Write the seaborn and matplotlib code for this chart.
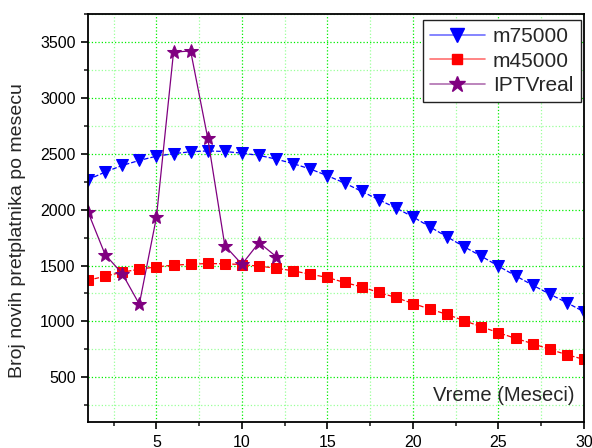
import matplotlib
matplotlib.use("Agg")
import matplotlib.pyplot as plt
from matplotlib.ticker import MultipleLocator
from matplotlib.lines import Line2D
import seaborn as sns

# podaci ocitani sa grafika
meseci = list(range(1, 31))
m75000 = [2268, 2336, 2395, 2440, 2478, 2500, 2518, 2525, 2520, 2505,
          2485, 2452, 2411, 2363, 2303, 2238, 2163, 2089, 2015, 1935,
          1845, 1756, 1667, 1583, 1494, 1408, 1324, 1244, 1167, 1086]
m45000 = [1368, 1404, 1440, 1467, 1488, 1503, 1511, 1518, 1515, 1509,
          1494, 1476, 1452, 1422, 1393, 1348, 1309, 1259, 1214, 1160,
          1110, 1062, 1006, 952, 899, 848, 801, 750, 702, 660]
meseci_real = list(range(1, 13))
iptv_real = [1979, 1598, 1428, 1154, 1931, 3408, 3420, 2640, 1678, 1511, 1705, 1580]
nazivi = ['m75000', 'm45000', 'IPTVreal']
boje = ['#0000ff', '#ff0000', '#800080']
markeri = ['v', 's', '*']

sns.set_style("ticks")
plt.rcParams['font.family'] = ['Liberation Sans', 'DejaVu Sans']

fig = plt.figure(figsize=(5.92, 4.48), dpi=100)
ax = fig.add_axes([88/592, 26/448, 496/592, 408/448])

sns.lineplot(x=meseci, y=m75000, ax=ax, color=boje[0], marker='v', markersize=9,
             markeredgecolor=boje[0], linestyle='--', linewidth=0.9)
sns.lineplot(x=meseci, y=m45000, ax=ax, color=boje[1], marker='s', markersize=6.5,
             markeredgecolor=boje[1], linestyle='--', linewidth=0.9)
sns.lineplot(x=meseci_real, y=iptv_real, ax=ax, color=boje[2], marker='*', markersize=10,
             markeredgecolor=boje[2], linestyle='-', linewidth=0.9)

ax.set_xlim(1, 30)
ax.set_ylim(100, 3750)
ax.xaxis.set_major_locator(MultipleLocator(5))
ax.xaxis.set_minor_locator(MultipleLocator(2.5))
ax.yaxis.set_minor_locator(MultipleLocator(250))
ax.set_yticks([500, 1000, 1500, 2000, 2500, 3000, 3500])
ax.tick_params(axis='both', which='major', direction='out', length=5, width=1.2, labelsize=11.5,
               colors='black', pad=4)
ax.tick_params(axis='both', which='minor', direction='out', length=3, width=1.2)

# zelena tackasta mreza
ax.grid(True, which='major', color='#00ee00', linestyle=':', linewidth=0.9)
ax.grid(True, which='minor', color='#99ff99', linestyle=':', linewidth=0.9)
ax.set_axisbelow(True)
for s in ax.spines.values():
    s.set_visible(True)
    s.set_color('black')
    s.set_linewidth(1.3)

ax.set_xlabel('')
ax.set_ylabel('')
ax.text(0.98, 0.064, 'Vreme (Meseci)', transform=ax.transAxes, ha='right', va='center', fontsize=14.5)
fig.text(18/592, 1 - 231/448, 'Broj novih pretplatnika po mesecu', rotation=90,
         ha='center', va='center', fontsize=14)

# legenda sa punim, svetlijim linijama
svetle = ['#6f6fff', '#ff7070', '#b070b0']
handles = [Line2D([0], [0], color=s, linewidth=1.2, marker=m, markersize=ms,
                  markerfacecolor=c, markeredgecolor=c)
           for c, s, m, ms in zip(boje, svetle, markeri, [10, 7.5, 12])]
leg = ax.legend(handles, nazivi, loc='upper right', bbox_to_anchor=(0.993, 0.985), fontsize=15,
                fancybox=False, frameon=True, edgecolor='#222222', framealpha=1, handlelength=2.6,
                labelspacing=0.25, borderpad=0.35, handletextpad=0.4, borderaxespad=0)
leg.get_frame().set_linewidth(1.0)

fig.savefig('out.png', dpi=100)
